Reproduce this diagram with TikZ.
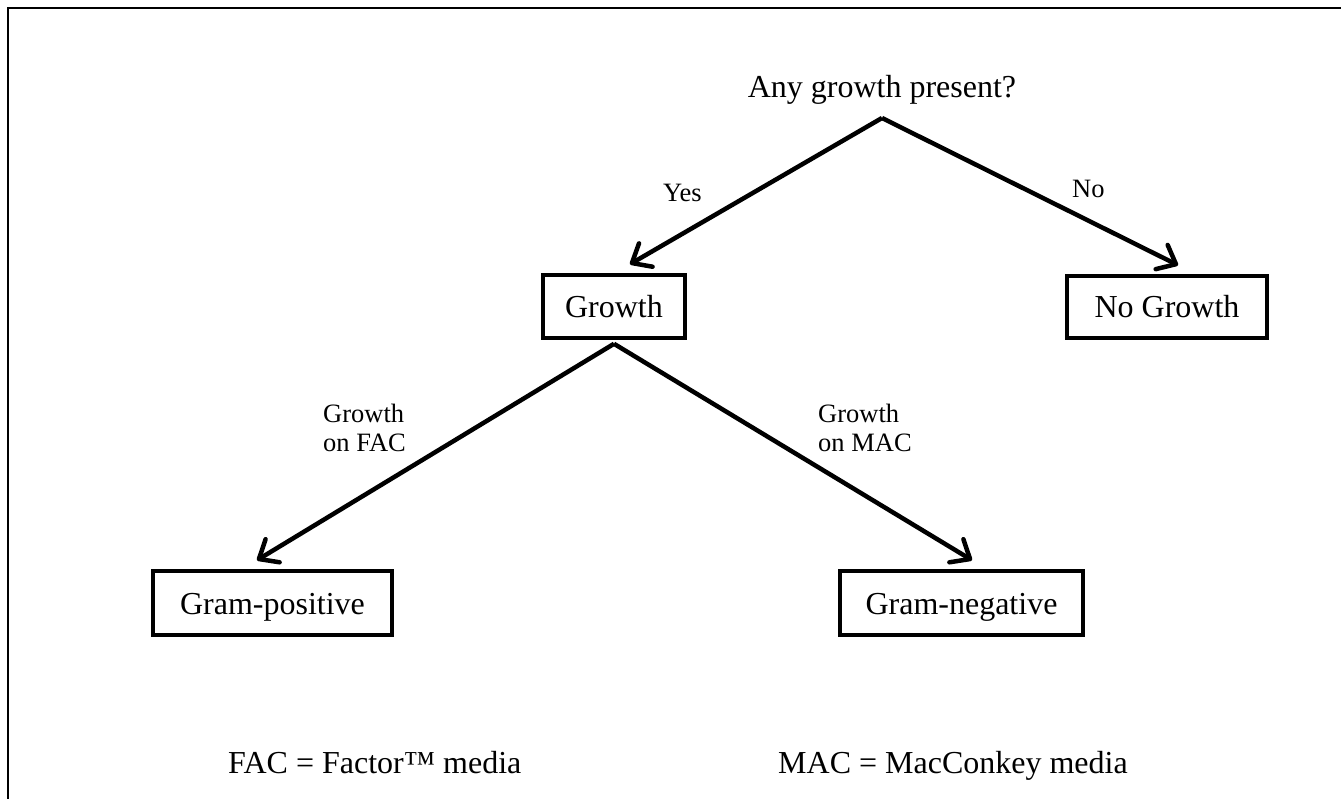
\documentclass[tikz,border=0pt]{standalone}
\usepackage{fontspec}
\setmainfont{Liberation Serif}
\usetikzlibrary{arrows.meta}
\tikzset{
  boxnode/.style={draw, line width=3.6pt, inner sep=0pt, text height=22pt, text depth=0pt,
    font=\fontsize{32}{38}\selectfont},
  bigtext/.style={inner sep=0pt, font=\fontsize{32}{38}\selectfont},
  smalltext/.style={inner sep=0pt, font=\fontsize{26.5}{29}\selectfont},
  conn/.style={line width=4.5pt, -{Straight Barb[length=16pt,width=27pt,line cap=round,line join=round]}},
  frameline/.style={line width=2pt}
}
\begin{document}
\begin{tikzpicture}[x=1pt,y=-1pt]
\useasboundingbox (0,0) rectangle (1341,799);
\draw[frameline] (8,799) -- (8,8) -- (1341,8);

\node[bigtext, anchor=base] (q) at (882,98) {Any growth present?};
\coordinate (apex) at (882,118);

\node[boxnode, minimum width=142pt, minimum height=63pt] (g) at (614,306.5) {Growth};
\node[boxnode, minimum width=200pt, minimum height=62pt] (ng) at (1167,307) {No Growth};
\node[boxnode, minimum width=239pt, minimum height=64pt] (gp) at (272.5,603) {Gram-positive};
\node[boxnode, minimum width=243pt, minimum height=64pt] (gn) at (961.5,603) {Gram-negative};

\draw[conn] (apex) -- ([xshift=16pt,yshift=9pt]g.north);
\draw[conn] (apex) -- ([xshift=11pt,yshift=9pt]ng.north);
\draw[conn] ([yshift=-4pt]g.south) -- ([xshift=-15.5pt,yshift=9pt]gp.north);
\draw[conn] ([yshift=-4pt]g.south) -- ([xshift=10.5pt,yshift=9pt]gn.north);

\node[smalltext, anchor=base west] (yes) at (663,202) {Yes};
\node[smalltext, anchor=base west] (no) at (1072,198) {No};
\node[smalltext, anchor=north west, align=left] (fac) at (323,404) {Growth\\on FAC};
\node[smalltext, anchor=north west, align=left] (mac) at (818,404) {Growth\\on MAC};

\node[bigtext, anchor=base west] (facdef) at (228,773) {FAC = Factor™ media};
\node[bigtext, anchor=base west] (macdef) at (778,773) {MAC = MacConkey media};
\end{tikzpicture}
\end{document}
